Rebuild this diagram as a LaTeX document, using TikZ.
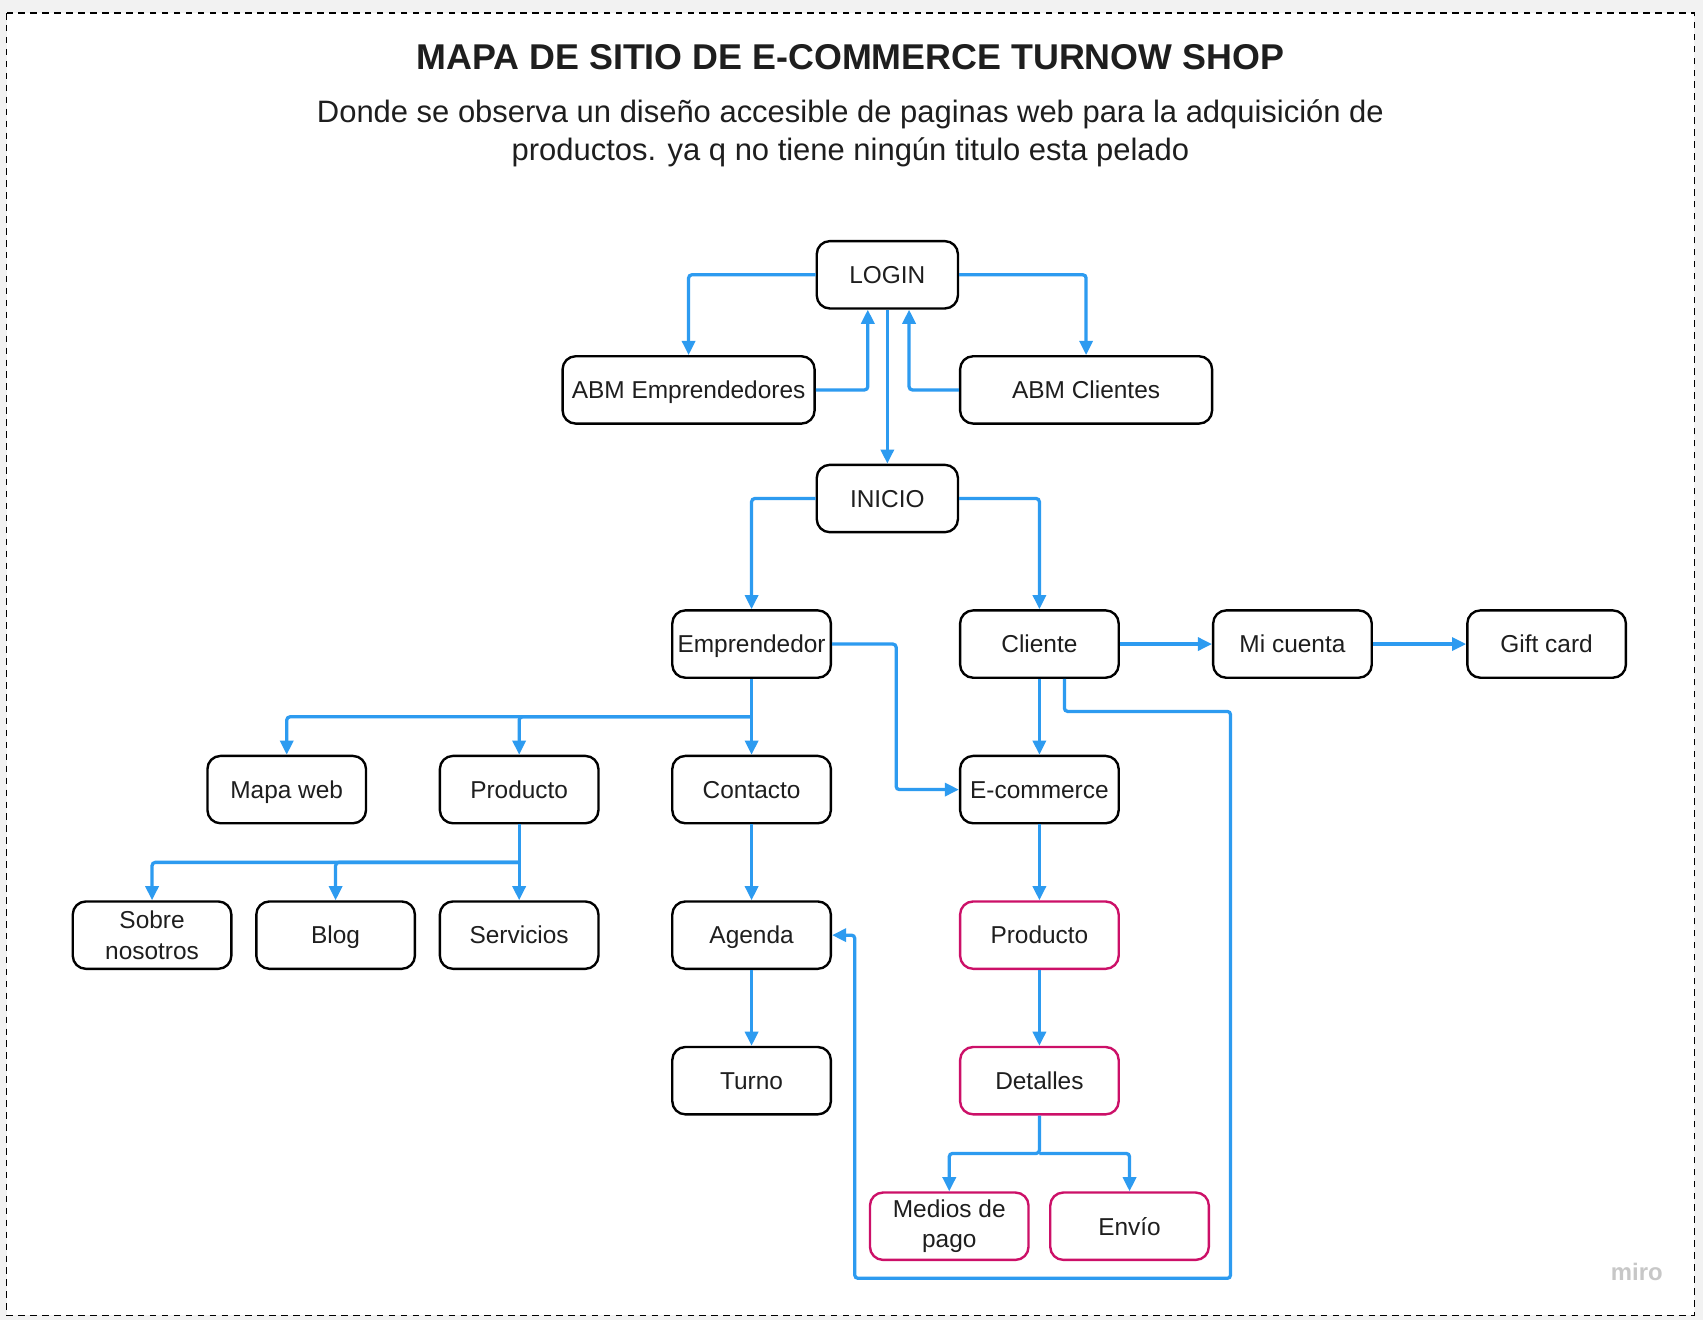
\documentclass[tikz,border=0pt]{standalone}
\usepackage{fontspec}
\setmainfont{Liberation Sans}
\usetikzlibrary{arrows.meta}
\definecolor{lineblue}{RGB}{45,155,240}
\definecolor{pinkb}{RGB}{204,16,104}
\definecolor{txt}{RGB}{30,30,30}
\definecolor{bgg}{RGB}{242,242,242}
\begin{document}
\begin{tikzpicture}[x=1pt,y=-1pt,
  basebox/.style={draw=black, line width=2.2pt, rounded corners=12pt, fill=white,
    minimum width=146pt, minimum height=62pt, inner sep=2pt,
    font=\fontsize{22.5}{28}\selectfont, text=txt},
  box/.style={basebox, text height=16.2pt, text depth=0pt},
  twobox/.style={basebox, align=center},
  pbox/.style={box, draw=pinkb},
  ptwobox/.style={twobox, draw=pinkb},
  conn/.style={draw=lineblue, line width=3pt, rounded corners=3pt,
    -{Triangle[length=13pt,width=12pt]}},
  ]
\useasboundingbox (0,0) rectangle (1568,1215);
\fill[bgg] (0,0) rectangle (1568,1215);
\fill[white] (6,12) rectangle (1560,1211);
\draw[black, line width=1.4pt, dash pattern=on 6pt off 5pt] (6,12) rectangle (1560,1211);

\node[font=\bfseries\fontsize{33}{33}\selectfont, text=txt] (title) at (783,53) {MAPA DE SITIO DE E-COMMERCE TURNOW SHOP};
\node[font=\fontsize{28.5}{35}\selectfont, text=txt, align=center] (sub) at (783,123)
  {Donde se observa un diseño accesible de paginas web para la adquisición de\\productos. ya q no tiene ningún titulo esta pelado};
\node[font=\bfseries\fontsize{22}{22}\selectfont, text=black!22] (miro) at (1507,1171) {miro};

% nodes
\node[box, minimum width=130pt] (login) at (817,253) {LOGIN};
\node[box, minimum width=232pt] (abme) at (634,359) {ABM Emprendedores};
\node[box, minimum width=232pt] (abmc) at (1000,359) {ABM Clientes};
\node[box, minimum width=130pt] (inicio) at (817,459) {INICIO};
\node[box] (empr) at (692,593) {Emprendedor};
\node[box] (cli) at (957,593) {Cliente};
\node[box] (micta) at (1190,593) {Mi cuenta};
\node[box] (gift) at (1424,593) {Gift card};
\node[box] (mapa) at (264,727) {Mapa web};
\node[box] (prod1) at (478,727) {Producto};
\node[box] (contacto) at (692,727) {Contacto};
\node[box] (ecom) at (957,727) {E-commerce};
\node[twobox] (sobre) at (140,861) {Sobre\\nosotros};
\node[box] (blog) at (309,861) {Blog};
\node[box] (serv) at (478,861) {Servicios};
\node[box] (agenda) at (692,861) {Agenda};
\node[pbox] (prod2) at (957,861) {Producto};
\node[box] (turno) at (692,995) {Turno};
\node[pbox] (detalles) at (957,995) {Detalles};
\node[ptwobox] (medios) at (874,1129) {Medios de\\pago};
\node[pbox] (envio) at (1040,1129) {Envío};

% junctions
\coordinate (e1) at (692,660);
\coordinate (p1) at (478,794);
\coordinate (d1) at (957,1062);

% connectors
\draw[conn] (login.west) -| (abme.north);
\draw[conn] (login.east) -| (abmc.north);
\draw[conn] (abme.east) -| ([xshift=-18pt]login.south);
\draw[conn] (abmc.west) -| ([xshift=20pt]login.south);
\draw[conn] (login.south) -- (inicio.north);
\draw[conn] (inicio.west) -| (empr.north);
\draw[conn] (inicio.east) -| (cli.north);
\draw[conn] (empr.east) -- ++(59,0) |- (ecom.west);
\draw[conn] (cli.east) -- (micta.west);
\draw[conn] (micta.east) -- (gift.west);
\draw[conn] (cli.south) -- (ecom.north);
\draw[conn] ([xshift=23pt]cli.south) |- (1133,655) -- (1133,1177) -| (787,861) -- (agenda.east);

\draw[conn] (empr.south) -- (contacto.north);
\draw[conn] (e1) -| (mapa.north);
\draw[conn] (e1) -| (prod1.north);

\draw[conn] (prod1.south) -- (serv.north);
\draw[conn] (p1) -| (sobre.north);
\draw[conn] (p1) -| (blog.north);

\draw[conn] (contacto.south) -- (agenda.north);
\draw[conn] (agenda.south) -- (turno.north);
\draw[conn] (ecom.south) -- (prod2.north);
\draw[conn] (prod2.south) -- (detalles.north);
\draw[conn] (detalles.south) -- (d1) -| (medios.north);
\draw[conn] (d1) -| (envio.north);
\end{tikzpicture}
\end{document}
